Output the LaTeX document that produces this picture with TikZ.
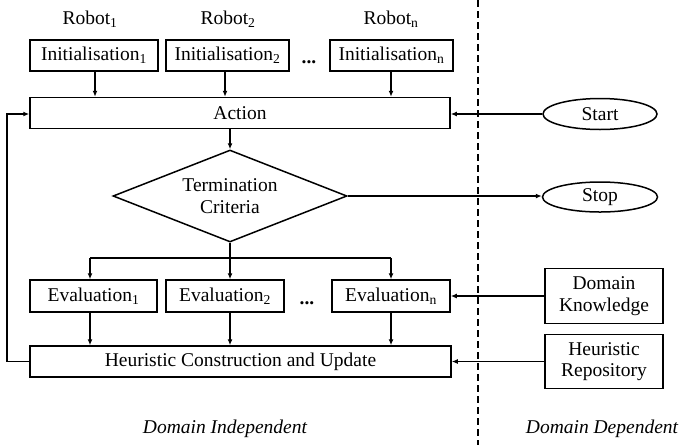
\documentclass[tikz,border=0pt]{standalone}
\usepackage{fontspec}
\setmainfont{Liberation Serif}
\usetikzlibrary{shapes.geometric,arrows.meta}
\begin{document}
\begin{tikzpicture}[x=1pt,y=-1pt,
  every node/.style={font=\fontsize{19.5}{21.5}\selectfont},
  box/.style={draw,line width=1.5pt,inner sep=0pt,minimum height=31pt,align=center},
  oval/.style={draw,line width=1.5pt,ellipse,inner sep=0pt,minimum width=114pt,minimum height=31pt},
  lbl/.style={inner sep=0pt,anchor=base},
  arr/.style={line width=1.4pt,-{Latex[length=6pt,width=5pt]}},
  ln/.style={line width=1.4pt}]
\useasboundingbox (0,0) rectangle (679,445);
% dashed separator
\draw[line width=1.4pt,dash pattern=on 7pt off 4pt] (478,0) -- (478,445);
% robots
\node[lbl] (r1) at (90,24) {Robot\textsubscript{1}};
\node[lbl] (r2) at (228,24) {Robot\textsubscript{2}};
\node[lbl] (rn) at (391,24) {Robot\textsubscript{n}};
% initialisation
\node[box,minimum width=128pt] (i1) at (94,55.5) {Initialisation\textsubscript{1}};
\node[box,minimum width=123pt] (i2) at (227.5,55.5) {Initialisation\textsubscript{2}};
\node[box,minimum width=123pt] (in) at (391.5,55.5) {Initialisation\textsubscript{n}};
\node[lbl] (d1) at (309,63) {\textbf{...}};
% action
\node[box,minimum width=420pt] (act) at (240,113) {Action};
\node[oval] (start) at (600,114) {Start};
% termination
\node[draw,line width=1.5pt,diamond,inner sep=0pt,minimum width=234pt,minimum height=92pt,aspect=2.54,align=center] (tc) at (230,196) {Termination\\Criteria};
\node[oval,minimum width=115pt,minimum height=30pt] (stop) at (600,197) {Stop};
% evaluation
\node[box,minimum width=127pt,minimum height=32pt] (e1) at (93.5,296) {Evaluation\textsubscript{1}};
\node[box,minimum width=118pt,minimum height=32pt] (e2) at (225,296) {Evaluation\textsubscript{2}};
\node[box,minimum width=118pt,minimum height=32pt] (en) at (391,296) {Evaluation\textsubscript{n}};
\node[lbl] (d2) at (307,304) {\textbf{...}};
% heuristic
\node[box,minimum width=421pt] (hc) at (240.5,361.5) {Heuristic Construction and Update};
\node[box,minimum width=118pt,minimum height=55pt] (dk) at (604,296) {Domain\\Knowledge};
\node[box,minimum width=118pt,minimum height=54pt] (hr) at (604,361.5) {Heuristic\\Repository};
% footer labels
\node[lbl,font=\fontsize{19.5}{21.5}\selectfont\itshape] (li) at (225,433) {Domain Independent};
\node[lbl,font=\fontsize{19.5}{21.5}\selectfont\itshape] (ld) at (602,433) {Domain Dependent};
% connectors
\coordinate (c1) at (95,0);
\coordinate (c2) at (225,0);
\coordinate (c3) at (391,0);
\draw[arr] (i1.south -| c1) -- (act.north -| c1);
\draw[arr] (i2.south -| c2) -- (act.north -| c2);
\draw[arr] (in.south -| c3) -- (act.north -| c3);
\draw[arr] (start.west) -- (act.east |- start.west);
\draw[arr] (act.south -| tc.north) -- (tc.north);
\draw[arr] (tc.east) -- (stop.west |- tc.east);
\coordinate (b1) at (90,258);
\coordinate (b3) at (391,258);
\draw[ln] (tc.south) -- (tc.south |- b1);
\draw[ln] (b1) -- (b3);
\draw[arr] (b1) -- (b1 |- e1.north);
\draw[arr] (tc.south |- b1) -- (tc.south |- e2.north);
\draw[arr] (b3) -- (b3 |- en.north);
\draw[arr] (b1 |- e1.south) -- (b1 |- hc.north);
\draw[arr] (tc.south |- e2.south) -- (tc.south |- hc.north);
\draw[arr] (b3 |- en.south) -- (b3 |- hc.north);
\draw[arr] (dk.west) -- (en.east |- dk.west);
\draw[arr] (hr.west) -- (hc.east |- hr.west);
\coordinate (fb) at (7,0);
\draw[arr] (hc.west) -- (hc.west -| fb) -- (fb |- start.west) -- (act.west |- start.west);
\end{tikzpicture}
\end{document}
